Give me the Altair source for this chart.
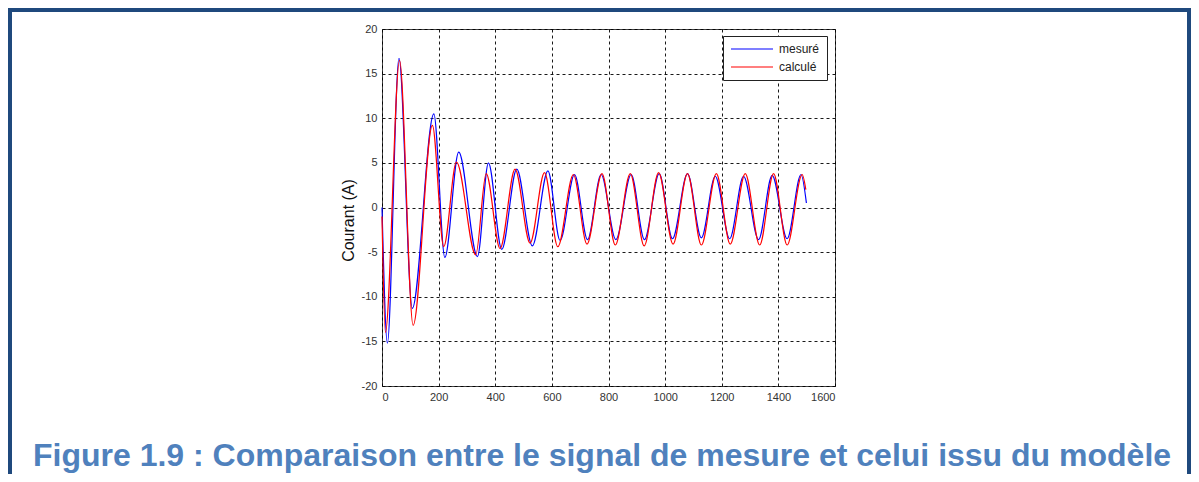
import altair as alt
import pandas as pd

# --- data ---
t_mesure = [0, 19, 60, 107, 183, 222, 271, 337, 376, 423, 476, 531, 586, 629, 680, 726,
            774, 826, 880, 927, 979, 1026, 1079, 1128, 1177, 1228, 1277, 1330, 1378, 1431,
            1480, 1499]
i_mesure = [0.0, -15.2, 16.7, -11.3, 10.5, -5.6, 6.2, -5.5, 5.0, -4.7, 4.3, -4.3, 4.1, -3.7, 3.7, -3.6,
            3.7, -3.6, 3.7, -3.6, 3.8, -3.5, 3.8, -3.4, 3.5, -3.5, 3.5, -3.6, 3.6, -3.5,
            3.7, 0.5]

t_calcule = [0, 12, 62, 110, 178, 218, 263, 331, 368, 417, 470, 523, 574, 621, 676, 724,
             777, 824, 877, 926, 977, 1028, 1079, 1128, 1181, 1230, 1283, 1334, 1383, 1431,
             1484, 1497]
i_calcule = [-1.0, -14.0, 16.5, -13.2, 9.2, -4.4, 5.1, -5.3, 3.8, -4.6, 4.3, -4.0, 3.9, -4.4, 3.7, -4.1,
             3.8, -4.2, 3.8, -4.3, 3.9, -4.1, 3.8, -4.2, 3.8, -4.1, 3.8, -4.2, 3.8, -4.2,
             3.7, 2.0]

series_names = ["mesuré", "calculé"]
series_colors = ["#0000FF", "#FF0000"]
x_ticks = [0, 200, 400, 600, 800, 1000, 1200, 1400, 1600]
y_ticks = [-20, -15, -10, -5, 0, 5, 10, 15, 20]
caption = "Figure 1.9 : Comparaison entre le signal de mesure et celui issu du modèle"

df = pd.concat([
    pd.DataFrame({"t": t_mesure, "i": i_mesure, "serie": series_names[0], "ordre": 0}),
    pd.DataFrame({"t": t_calcule, "i": i_calcule, "serie": series_names[1], "ordre": 1}),
])

FONT = "Liberation Sans"

lines = alt.Chart(df).mark_line(strokeWidth=1.2, interpolate="monotone").encode(
    x=alt.X("t:Q", scale=alt.Scale(domain=[0, 1600], nice=False, zero=False),
            axis=alt.Axis(values=x_ticks, title=None, labelExpr="'' + datum.value")),
    y=alt.Y("i:Q", scale=alt.Scale(domain=[-20, 20], nice=False, zero=False),
            axis=alt.Axis(values=y_ticks, title="Courant (A)", titleY=191,
                          labelExpr="'' + datum.value")),
    color=alt.Color("serie:N",
                    scale=alt.Scale(domain=series_names, range=series_colors),
                    legend=alt.Legend(title=None, orient="none", legendX=341, legendY=7,
                                      symbolType="stroke", symbolSize=1764,
                                      symbolStrokeWidth=1.2, labelFontSize=12,
                                      labelFont=FONT, labelColor="#222222",
                                      labelOffset=5, clipHeight=12, rowPadding=6,
                                      padding=7, fillColor="white",
                                      strokeColor="#222222")),
    order=alt.Order("ordre:Q"),
    detail="serie:N",
)

frame = alt.Chart(alt.Data(values=[{"k": 1}])).mark_rect(
    fill=None, stroke="#1F497D", strokeWidth=4
).encode(
    x=alt.value(-372), x2=alt.value(807), y=alt.value(-19), y2=alt.value(480)
)

cap = alt.Chart(alt.Data(values=[{"txt": caption}])).mark_text(
    font=FONT, fontSize=32, fontWeight="bold", color="#4F81BD",
    align="center", baseline="alphabetic"
).encode(
    text="txt:N", x=alt.value(220), y=alt.value(437)
)

chart = alt.layer(lines, frame, cap).properties(
    width=453, height=357,
    background="white",
    autosize=alt.AutoSizeParams(type="none"),
    padding={"left": 374, "top": 21, "right": 356, "bottom": 88},
).configure_view(
    stroke="#404040", strokeWidth=1
).configure_axis(
    labelFont=FONT, labelFontSize=11, labelColor="#333333",
    titleFont=FONT, titleFontSize=16, titleFontWeight="normal", titleColor="#111111",
    grid=True, gridColor="#000000", gridDash=[3, 3], gridOpacity=0.9, gridWidth=1,
    ticks=False, domain=False, labelPadding=5, titlePadding=5,
)

chart.save("out.html", embed_options={"renderer": "svg", "actions": False})
